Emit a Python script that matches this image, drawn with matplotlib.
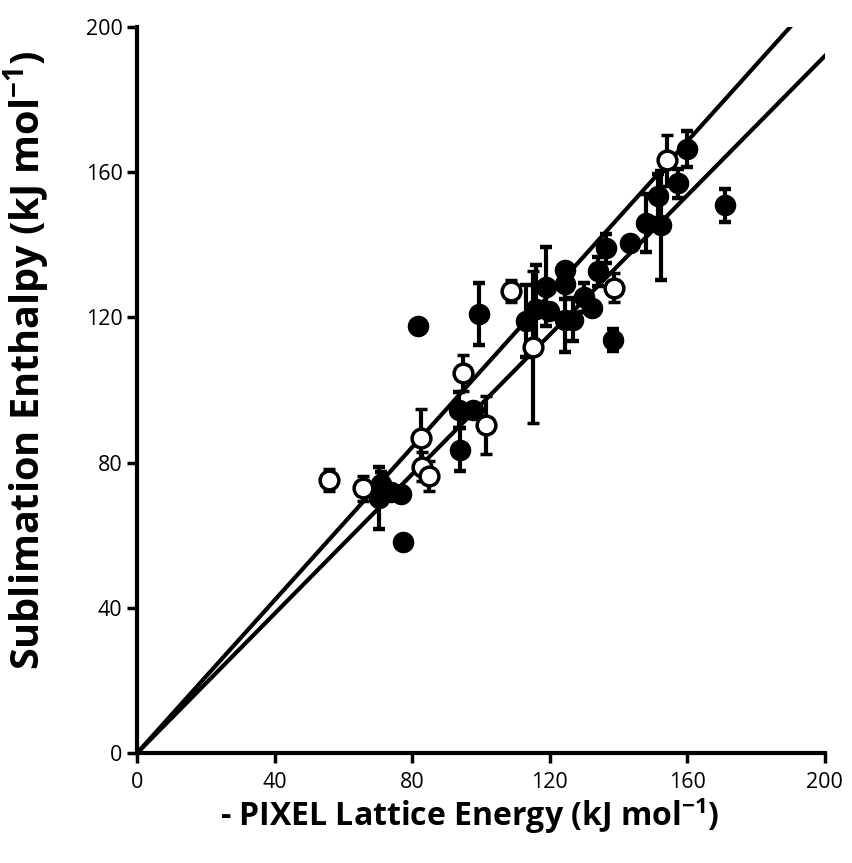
import numpy as np
import matplotlib
matplotlib.use("Agg")
from matplotlib import pyplot as plt

plt.rcParams['font.family'] = ['Open Sans', 'DejaVu Sans']
plt.rcParams['mathtext.fontset'] = 'custom'
plt.rcParams['mathtext.bf'] = 'Open Sans:bold'
plt.rcParams['mathtext.rm'] = 'Open Sans'

# open circles
open_x = [55.8, 65.6, 82.5, 82.9, 84.9, 94.8, 101.4, 108.8, 115.1, 138.7, 154.1]
open_y = [75.1, 72.9, 86.9, 78.9, 76.3, 104.6, 90.4, 127.3, 111.9, 128.2, 163.3]
open_err = [3, 3.5, 8, 4, 4, 5, 8, 3, 21, 4, 7]

# filled circles
fill_x = [70.3, 71.0, 73.9, 76.6, 77.4, 81.8, 93.9, 93.6, 97.8, 99.4, 113.0, 115.9,
          119.0, 119.8, 124.5, 124.5, 124.5, 126.9, 130.0, 132.4, 134.0, 136.3, 138.4,
          143.4, 148.1, 151.6, 152.5, 157.2, 159.9, 170.9]
fill_y = [70.3, 74.0, 71.8, 71.4, 58.2, 117.6, 83.6, 94.5, 94.5, 120.9, 119.0, 122.4,
          128.5, 121.7, 133.0, 129.2, 119.4, 119.4, 125.5, 122.7, 132.7, 139.0, 113.7,
          140.6, 145.9, 153.4, 145.4, 156.9, 166.3, 150.9]
fill_err = [8.6, 3.5, 0, 0, 0, 0, 6, 5, 0, 8.6, 10, 12, 11, 0, 0, 4, 9, 6, 4, 0,
            4, 4, 3, 0, 8, 6, 15, 4, 5, 4.5]

# fitted lines through origin
slopes = [1.053, 0.96]
line_x = np.array([0, 200])

fig = plt.figure(figsize=(8.52, 8.63), dpi=100)
ax = fig.add_axes([0.161, 0.1275, 0.807, 0.8412])

for s in slopes:
    ax.plot(line_x, s * line_x, color='black', lw=3, zorder=2)

ax.errorbar(fill_x, fill_y, yerr=fill_err, fmt='o', color='black', ms=14.5,
            elinewidth=3, capsize=4, capthick=3.2, zorder=3)
ax.errorbar(open_x, open_y, yerr=open_err, fmt='o', color='black', mfc='white',
            mec='black', mew=2.5, ms=13.5, elinewidth=3, capsize=4, capthick=3.2, zorder=4)

ax.set_xlim(0, 200)
ax.set_ylim(0, 200)
ax.set_xticks([0, 40, 80, 120, 160, 200])
ax.set_yticks([0, 40, 80, 120, 160, 200])
ax.spines['top'].set_visible(False)
ax.spines['right'].set_visible(False)
ax.spines['left'].set_linewidth(3)
ax.spines['bottom'].set_linewidth(3)
ax.tick_params(width=2.5, length=7, labelsize=15.5, direction='out')
ax.tick_params(axis='x', pad=7)
ax.set_xlabel(r'- PIXEL Lattice Energy (kJ mol$\mathbf{^{-1}}$)', fontsize=23,
              fontweight='bold')
ax.set_ylabel(r'Sublimation Enthalpy (kJ mol$\mathbf{^{-1}}$)', fontsize=28.5,
              fontweight='bold')
ax.xaxis.set_label_coords(0.484, -0.058)
ax.yaxis.set_label_coords(-0.124, 0.541)

fig.savefig('out.png', dpi=100)
